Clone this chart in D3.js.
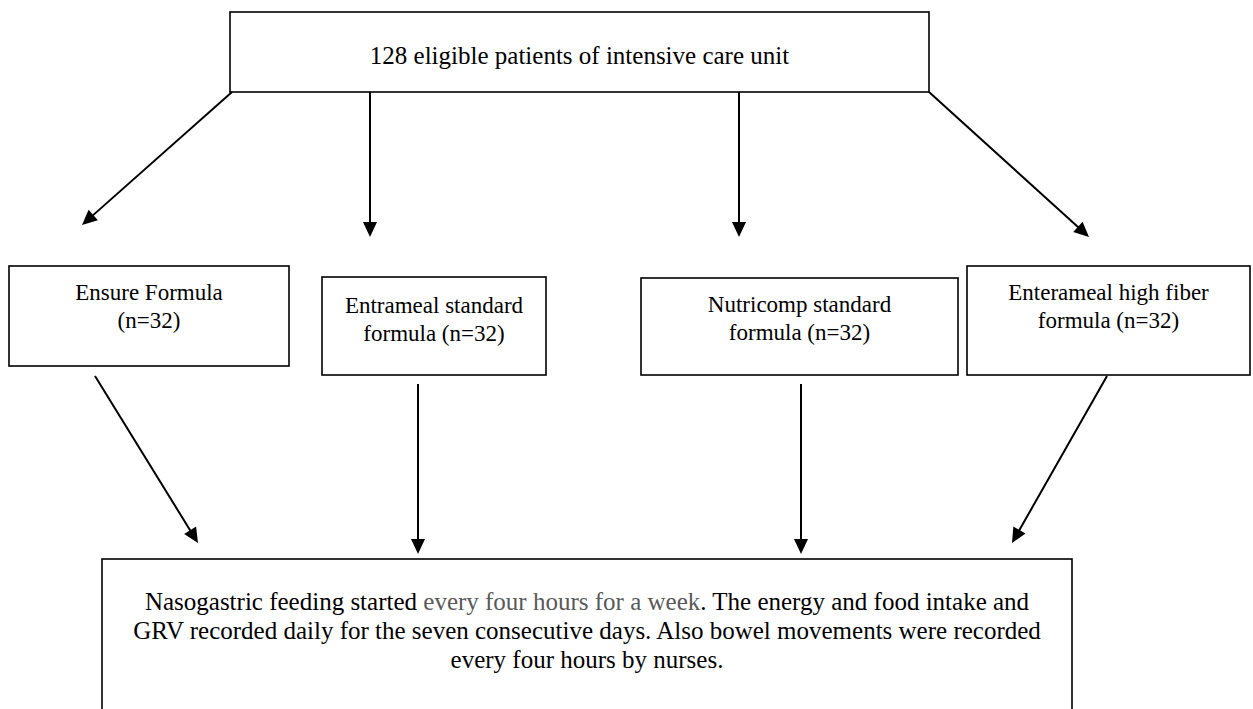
<!DOCTYPE html>
<html>
<head>
<meta charset="utf-8">
<script src="https://cdn.jsdelivr.net/npm/d3@7"></script>
<style>
  body { margin: 0; background: #fff; }
  text { font-family: "Liberation Serif", "Times New Roman", serif; font-size: 25px; fill: #000; }
  text.group { font-size: 23px; }
</style>
</head>
<body>
<script>
// flow chart content
const topLabel = ['128 eligible patients of intensive care unit']
const groupLabels = [
    ['Ensure Formula', '(n=32)'],
    ['Entrameal standard', 'formula (n=32)'],
    ['Nutricomp standard', 'formula (n=32)'],
    ['Enterameal high fiber', 'formula (n=32)']
]
const bottomLines = [
    'Nasogastric feeding started every four hours for a week. The energy and food intake and',
    'GRV recorded daily for the seven consecutive days. Also bowel movements were recorded',
    'every four hours by nurses.'
]
const mutedPhrase = 'every four hours for a week'

// layout (pixels)
const m = { width: 1253, height: 709 }
const topBox = { x0: 230, y0: 12, x1: 929, y1: 92, base: [64] }
const groupBoxes = [
    { x0: 9,   y0: 266, x1: 289,  y1: 366, base: [300, 328] },
    { x0: 322, y0: 277, x1: 546,  y1: 375, base: [313, 341] },
    { x0: 641, y0: 278, x1: 958,  y1: 375, base: [312, 340] },
    { x0: 967, y0: 266, x1: 1250, y1: 375, base: [300, 328] }
]
const bottomBox = { x0: 102, y0: 559, x1: 1072, y1: 760, base: [610, 639, 668] }
const topArrows = [
    [[232, 92], [82, 225]],
    [[370, 92], [370, 237]],
    [[739, 92], [739, 237]],
    [[929, 92], [1089, 237]]
]
const lowerArrows = [
    [[95, 376], [198, 543]],
    [[418, 384], [418, 554]],
    [[801, 384], [801, 554]],
    [[1107, 376], [1012, 543]]
]

const x = d3.scaleLinear().domain([0, m.width]).range([0, m.width])
const y = d3.scaleLinear().domain([0, m.height]).range([0, m.height])

const svg = d3.select('body').append('svg')
    .attr('width', m.width)
    .attr('height', m.height)

const g = svg.append('g')

function drawBox(box, lines, cls) {
    g.append('rect')
        .attr('x', x(box.x0))
        .attr('y', y(box.y0))
        .attr('width', x(box.x1) - x(box.x0))
        .attr('height', y(box.y1) - y(box.y0))
        .attr('fill', 'none')
        .attr('stroke', '#000')
        .attr('stroke-width', 1.6)
    const cx = x((box.x0 + box.x1) / 2)
    lines.forEach(function(line, i) {
        const t = g.append('text')
            .attr('class', cls)
            .attr('x', cx)
            .attr('y', y(box.base[i]))
            .attr('text-anchor', 'middle')
        const k = line.indexOf(mutedPhrase)
        if (k < 0) {
            t.text(line)
        } else {
            t.append('tspan').text(line.slice(0, k))
            t.append('tspan').attr('fill', '#595959').text(mutedPhrase)
            t.append('tspan').text(line.slice(k + mutedPhrase.length))
        }
    })
}

drawBox(topBox, topLabel, 'top')
groupBoxes.forEach(function(b, i) { drawBox(b, groupLabels[i], 'group') })
drawBox(bottomBox, bottomLines, 'bottom')

// arrows: shaft plus a filled head
const headLen = 15, headHalf = 7
function drawArrow(a) {
    const x0 = x(a[0][0]), y0 = y(a[0][1]), x1 = x(a[1][0]), y1 = y(a[1][1])
    const dx = x1 - x0, dy = y1 - y0
    const len = Math.sqrt(dx * dx + dy * dy)
    const ux = dx / len, uy = dy / len
    const bx = x1 - ux * headLen, by = y1 - uy * headLen
    g.append('line')
        .attr('x1', x0).attr('y1', y0)
        .attr('x2', bx + ux * 2).attr('y2', by + uy * 2)
        .attr('stroke', '#000')
        .attr('stroke-width', 2)
    g.append('path')
        .attr('d', d3.line()([
            [x1, y1],
            [bx - uy * headHalf, by + ux * headHalf],
            [bx + uy * headHalf, by - ux * headHalf]
        ]) + 'Z')
        .attr('fill', '#000')
}

topArrows.forEach(drawArrow)
lowerArrows.forEach(drawArrow)
</script>
</body>
</html>
